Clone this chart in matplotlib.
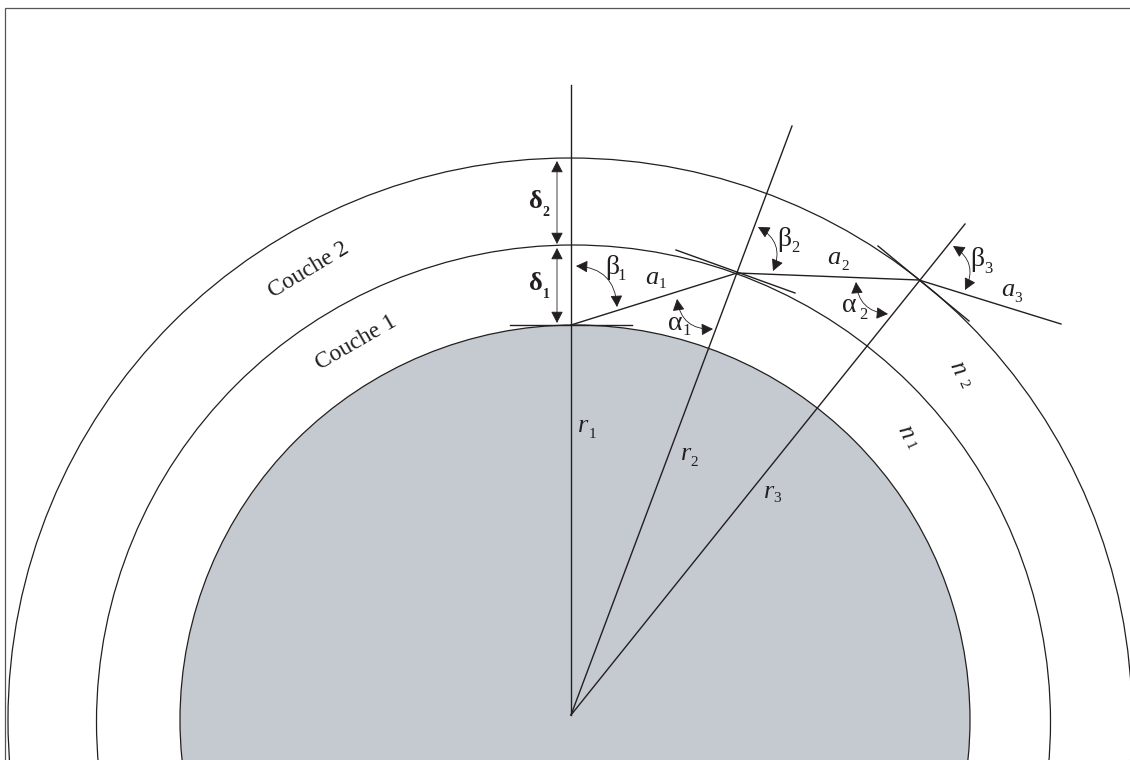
import matplotlib
matplotlib.use("Agg")
import matplotlib.pyplot as plt
from matplotlib.patches import Circle, FancyArrowPatch

INK = "#231F20"
GREY = "#C5CAD0"
FONT = "Liberation Serif"

# circles: centre x, centre y, radius (picture pixels)
core = (575, 720, 395)
layer_1 = (573.5, 722, 477)
layer_2 = (570, 720, 562)

# straight segments
frame_x = [5, 5, 1130]
frame_y = [760, 8, 8]
normal_1 = [(571, 85), (571, 715)]
normal_2 = [(571, 715), (792, 126)]
normal_3 = [(571, 715), (965, 224)]
ray = [(571, 325), (737, 273), (919, 280), (1061, 324)]
tangent_1 = [(510, 325), (632, 325)]
tangent_2 = [(676, 250), (795, 293)]
tangent_3 = [(878, 246), (969, 321)]

# straight double arrows
delta_arrows = [((557, 161), (557, 244)), ((557, 248), (557, 323))]
# curved double arrows: start, end, curvature
angle_arrows = [
    ((576, 266), (617, 307), -0.45),
    ((677, 299), (713, 329), 0.45),
    ((758, 227), (773, 271), -0.45),
    ((856, 282), (888, 314), 0.42),
    ((953, 246), (965, 290), -0.45),
]

# labels: main, sub, main x, main y, sub x, sub y
greek = [("β", "1", 612, 267, 622, 276), ("α", "1", 675, 323, 687, 331),
         ("β", "2", 784, 240, 795, 248), ("α", "2", 849, 305, 863, 315),
         ("β", "3", 977, 260, 988, 269)]
deltas = [("δ", "2", 536, 201, 546, 212), ("δ", "1", 536, 284, 546, 295)]
lengths = [("a", "1", 652, 278, 662, 284), ("a", "2", 834, 258, 845, 266),
           ("a", "3", 1008, 290, 1018, 298)]
radii = [("r", "1", 583, 426, 592, 435), ("r", "2", 686, 454, 694, 462),
         ("r", "3", 769, 492, 777, 499)]
layers = [("Couche 2", 309, 270, 31), ("Couche 1", 356, 343, 30)]
indices = [("n", "2", 957, 368, -65, 963, 384), ("n", "1", 905, 432, -65, 909, 446)]

fig = plt.figure(figsize=(11.3, 7.6), dpi=100)
ax = fig.add_axes([0, 0, 1, 1])
ax.set_xlim(0, 1130)
ax.set_ylim(760, 0)
ax.axis("off")

ax.add_patch(Circle(core[:2], core[2], fc=GREY, ec=INK, lw=0.9, zorder=1))
for c in (layer_1, layer_2):
    ax.add_patch(Circle(c[:2], c[2], fc="none", ec=INK, lw=0.9, zorder=2))

ax.plot(frame_x, frame_y, color="#555555", lw=0.9, zorder=2, solid_joinstyle="miter")
for seg in (normal_1, normal_2, normal_3, ray, tangent_1, tangent_2, tangent_3):
    ax.plot(*zip(*seg), color=INK, lw=1.0, zorder=3)

style = "<|-|>,head_length=0.62,head_width=0.32"
for a, b in delta_arrows:
    ax.add_patch(FancyArrowPatch(a, b, arrowstyle=style, mutation_scale=11.5, color=INK,
                                 lw=0.6, shrinkA=0, shrinkB=0, zorder=4))
for a, b, rad in angle_arrows:
    ax.add_patch(FancyArrowPatch(a, b, arrowstyle=style, mutation_scale=11.5, color=INK, lw=0.6,
                                 connectionstyle=f"arc3,rad={rad}", shrinkA=0, shrinkB=0, zorder=4))


def label(m, s, x, y, sx, sy, size, subsize, italic=False, weight="normal"):
    st = "italic" if italic else "normal"
    ax.text(x, y, m, family=FONT, fontsize=size, style=st, weight=weight, color=INK,
            ha="center", va="center", zorder=5)
    ax.text(sx, sy, s, family=FONT, fontsize=subsize, weight=weight, color=INK,
            ha="center", va="center", zorder=5)


for row in greek:
    label(*row, 20, 12)
for row in deltas:
    label(*row, 19, 10, weight="bold")
for row in lengths:
    label(*row, 19, 11, italic=True)
for row in radii:
    label(*row, 19, 11, italic=True)
for t, x, y, r in layers:
    ax.text(x, y, t, family=FONT, fontsize=17, color=INK, rotation=r, rotation_mode="anchor",
            ha="center", va="center", zorder=5)
for m, s, x, y, r, sx, sy in indices:
    ax.text(x, y, m, family=FONT, fontsize=18, style="italic", color=INK, rotation=r,
            rotation_mode="anchor", ha="center", va="center", zorder=5)
    ax.text(sx, sy, s, family=FONT, fontsize=11, color=INK, rotation=r,
            rotation_mode="anchor", ha="center", va="center", zorder=5)

fig.savefig("out.png", dpi=100, facecolor="white")
